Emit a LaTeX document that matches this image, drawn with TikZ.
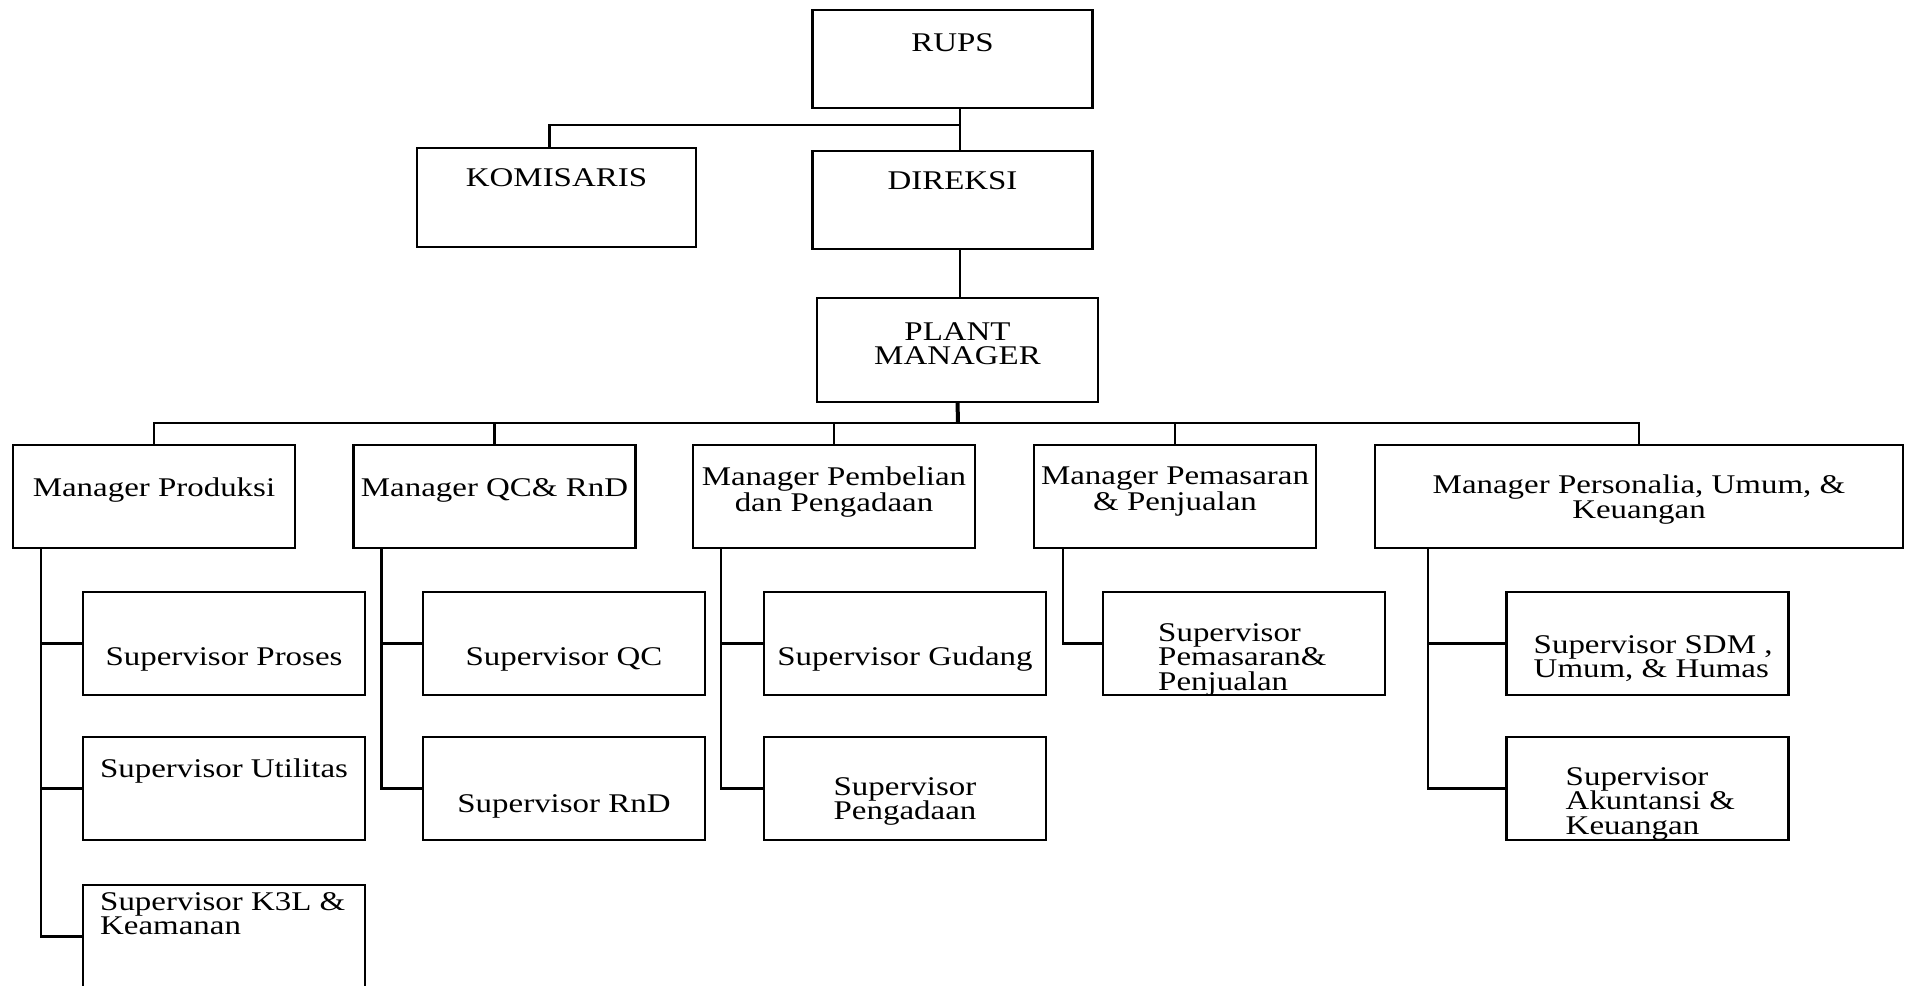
\documentclass[tikz,border=0pt]{standalone}
\usepackage{fontspec}
\setmainfont{Liberation Serif}[FakeStretch=1.22]
\usepackage{tikz}
\usetikzlibrary{calc}

\tikzset{
	box/.style={draw, rectangle, line width=2.4pt, inner sep=0pt, outer sep=0pt, minimum width=282pt, minimum height=103pt},
	txt/.style={anchor=north, inner sep=0pt, align=center, font=\fontsize{27pt}{24.5pt}\selectfont},
	ltxt/.style={txt, anchor=north west, align=left},
	conn/.style={line width=2.4pt},
	trunk/.style={line width=4pt}
}

\begin{document}
\begin{tikzpicture}[x=1pt, y=-1pt]
	\clip (0,0) rectangle (1905,985);

	\node[box, minimum width=280pt, minimum height=98pt] (rups) at (952.5,59) {};
	\node[box, minimum width=279pt, minimum height=99pt] (kom) at (556.5,197.5) {};
	\node[box, minimum width=280pt, minimum height=98pt] (dir) at (952.5,200) {};
	\node[box, minimum width=281pt, minimum height=104pt] (plant) at (957.5,350) {};

	\node[txt] (rupsT) at ([yshift=-23pt]rups.north) {RUPS};
	\node[txt] (komT) at ([yshift=-20pt]kom.north) {KOMISARIS};
	\node[txt] (dirT) at ([yshift=-20pt]dir.north) {DIREKSI};
	\node[txt] (plantT) at ([yshift=-24pt]plant.north) {PLANT\\MANAGER};

	\node[box] (prod) at (154,496.5) {};
	\node[box] (qc) at (494.5,496.5) {};
	\node[box] (pemb) at (834,496.5) {};
	\node[box] (pemas) at (1175,496.5) {};
	\node[box, minimum width=528pt] (pers) at (1639,496.5) {};

	\node[txt] (prodT) at ([yshift=-33pt]prod.north) {Manager Produksi};
	\node[txt] (qcT) at ([yshift=-33pt]qc.north) {Manager QC\& RnD};
	\node[txt] (pembT) at ([yshift=-22pt]pemb.north) {Manager Pembelian\\dan Pengadaan};
	\node[txt] (pemasT) at ([yshift=-22pt]pemas.north) {Manager Pemasaran\\\& Penjualan};
	\node[txt] (persT) at ([yshift=-30pt]pers.north) {Manager Personalia, Umum, \&\\Keuangan};

	\node[box] (sprs) at (224,643.5) {};
	\node[box] (sutl) at (224,788.5) {};
	\node[box] (sk3l) at (224,936.5) {};
	\node[box] (sqc) at (564,643.5) {};
	\node[box] (srnd) at (564,788.5) {};
	\node[box] (sgud) at (905,643.5) {};
	\node[box] (spgd) at (905,788.5) {};
	\node[box] (spms) at (1244,643.5) {};
	\node[box] (ssdm) at (1647.5,643.5) {};
	\node[box] (sakt) at (1647.5,788.5) {};

	\node[txt] (sprsT) at ([yshift=-55pt]sprs.north) {Supervisor Proses};
	\node[txt] (sutlT) at ([yshift=-22pt]sutl.north) {Supervisor Utilitas};
	\node[ltxt] (sk3lT) at ([xshift=17pt, yshift=-7pt]sk3l.north west) {Supervisor K3L \&\\Keamanan};
	\node[txt] (sqcT) at ([yshift=-55pt]sqc.north) {Supervisor QC};
	\node[txt] (srndT) at ([yshift=-57pt]srnd.north) {Supervisor RnD};
	\node[txt] (sgudT) at ([yshift=-55pt]sgud.north) {Supervisor Gudang};
	\node[txt] (spgdT) at ([yshift=-40pt]spgd.north) {Supervisor\\Pengadaan};
	\node[ltxt] (spmsT) at ([xshift=55pt, yshift=-31pt]spms.north west) {Supervisor\\Pemasaran\&\\Penjualan};
	\node[ltxt] (ssdmT) at ([xshift=27pt, yshift=-43pt]ssdm.north west) {Supervisor SDM ,\\Umum, \& Humas};
	\node[ltxt] (saktT) at ([xshift=59pt, yshift=-30pt]sakt.north west) {Supervisor\\Akuntansi \&\\Keuangan};

	\coordinate (komj) at (960,125);
	\coordinate (bus) at (958,423);

	\draw[conn] (rups.south -| komj) -- (dir.north -| komj);
	\draw[conn] ([xshift=-7pt]kom.north) |- (komj);
	\draw[conn] (dir.south -| komj) -- (plant.north -| komj);
	\draw[trunk] (plant.south) -- (bus);
	\draw[conn] (prod.north) |- (pers.north |- bus) -- (pers.north);
	\draw[conn] (qc.north) -- (qc.north |- bus);
	\draw[conn] (pemb.north) -- (pemb.north |- bus);
	\draw[conn] (pemas.north) -- (pemas.north |- bus);

	\draw[conn] ([xshift=28pt]prod.south west) |- (sprs.west);
	\draw[conn] ([xshift=28pt]prod.south west) |- (sutl.west);
	\draw[conn] ([xshift=28pt]prod.south west) |- (sk3l.west);
	\draw[conn] ([xshift=28pt]qc.south west) |- (sqc.west);
	\draw[conn] ([xshift=28pt]qc.south west) |- (srnd.west);
	\draw[conn] ([xshift=28pt]pemb.south west) |- (sgud.west);
	\draw[conn] ([xshift=28pt]pemb.south west) |- (spgd.west);
	\draw[conn] ([xshift=29pt]pemas.south west) |- (spms.west);
	\draw[conn] ([xshift=53pt]pers.south west) |- (ssdm.west);
	\draw[conn] ([xshift=53pt]pers.south west) |- (sakt.west);
\end{tikzpicture}
\end{document}
